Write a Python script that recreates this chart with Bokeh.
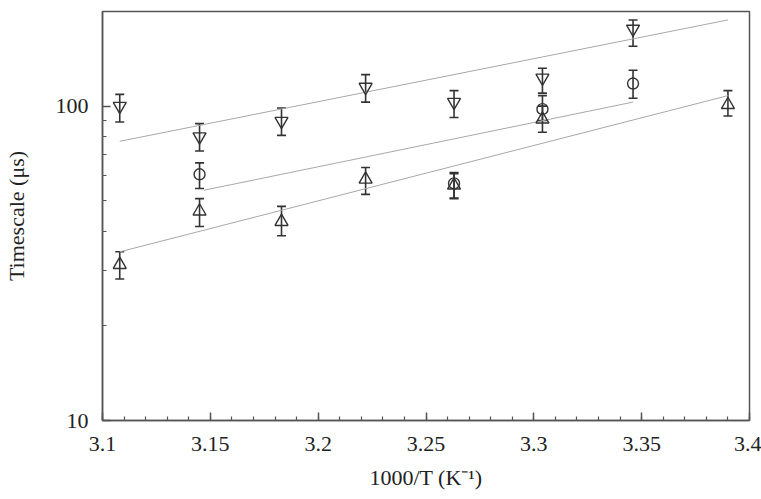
from bokeh.plotting import figure
from bokeh.models import ColumnDataSource, Whisker, TeeHead, FixedTicker, Range1d
from bokeh.embed import file_html
from bokeh.resources import INLINE

# ---- data ----
down_x = [3.108, 3.145, 3.183, 3.222, 3.263, 3.304, 3.346]
down_y = [100, 80, 89.6, 115, 103, 123, 176]
down_lo = [89, 72, 80.7, 103, 92, 110, 155]
down_hi = [109, 88, 98.6, 126, 112, 132, 188]

circ_x = [3.145, 3.263, 3.304, 3.346]
circ_y = [60.7, 56.8, 97.8, 118]
circ_lo = [54.7, 50.8, 90, 106]
circ_hi = [66, 61.5, 108, 130]

up_x = [3.108, 3.145, 3.183, 3.222, 3.263, 3.304, 3.390]
up_y = [31.3, 46.3, 42.9, 58.5, 56, 90.8, 101]
up_lo = [28.2, 41.4, 38.7, 52.4, 51, 82.6, 93]
up_hi = [34.4, 50.8, 48, 63.8, 61, 100, 112]

fit_down_x = [3.108, 3.390]
fit_down_y = [77.3, 188]
fit_circ_x = [3.147, 3.346]
fit_circ_y = [54, 103]
fit_up_x = [3.108, 3.390]
fit_up_y = [34.4, 108]

x_ticks = [3.1, 3.15, 3.2, 3.25, 3.3, 3.35, 3.4]
x_minor = [round(3.1 + 0.01 * i, 2) for i in range(31)]
y_ticks = [10, 100]
y_minor = [20, 30, 40, 50, 60, 70, 80, 90, 200]

FONT = "Liberation Serif"
INK = "#333333"
AX = "#555555"

p = figure(width=761, height=499, output_backend="svg", toolbar_location=None,
           y_axis_type="log", x_range=Range1d(3.1, 3.4), y_range=Range1d(10, 200),
           min_border_left=102, min_border_right=12, min_border_top=11, min_border_bottom=79)
p.grid.visible = False
p.outline_line_color = AX
p.outline_line_width = 1.5
p.background_fill_color = "white"
p.border_fill_color = "white"

# fit lines
p.line(fit_down_x, fit_down_y, line_color="#a8a8a8", line_width=1)
p.line(fit_circ_x, fit_circ_y, line_color="#a8a8a8", line_width=1)
p.line(fit_up_x, fit_up_y, line_color="#a8a8a8", line_width=1)

def series(xs, ys, lo, hi, marker, size):
    src = ColumnDataSource(dict(x=xs, y=ys, lo=lo, hi=hi))
    w = Whisker(source=src, base="x", lower="lo", upper="hi", dimension="height",
                line_color=INK, line_width=1.6,
                upper_head=TeeHead(size=9, line_color=INK, line_width=1.6),
                lower_head=TeeHead(size=9, line_color=INK, line_width=1.6))
    p.add_layout(w)
    p.scatter("x", "y", source=src, marker=marker, size=size,
              fill_color=None, line_color=INK, line_width=1.4)

series(down_x, down_y, down_lo, down_hi, "inverted_triangle", 13)
series(circ_x, circ_y, circ_lo, circ_hi, "circle", 11)
series(up_x, up_y, up_lo, up_hi, "triangle", 13)

# axes
xa = p.xaxis[0]
xa.ticker = FixedTicker(ticks=x_ticks, minor_ticks=x_minor)
xa.major_label_overrides = {3.1: "3.1", 3.15: "3.15", 3.2: "3.2", 3.25: "3.25",
                            3.3: "3.3", 3.35: "3.35", 3.4: "3.4"}
xa.axis_label = "1000/T (K\u207b\u00b9)"
ya = p.yaxis[0]
ya.ticker = FixedTicker(ticks=y_ticks, minor_ticks=y_minor)
ya.major_label_overrides = {10: "10", 100: "100"}
ya.axis_label = "Timescale (\u03bcs)"

for ax in (xa, ya):
    ax.axis_line_color = AX
    ax.axis_line_width = 1.5
    ax.major_tick_line_color = AX
    ax.minor_tick_line_color = AX
    ax.major_tick_line_width = 1.5
    ax.minor_tick_line_width = 1.2
    ax.major_tick_in = 8
    ax.major_tick_out = 0
    ax.minor_tick_in = 4
    ax.minor_tick_out = 0
    ax.major_label_text_font = FONT
    ax.major_label_text_font_size = "22px"
    ax.major_label_text_color = "#222222"
    ax.axis_label_text_font = FONT
    ax.axis_label_text_font_size = "22px"
    ax.axis_label_text_font_style = "normal"
    ax.axis_label_text_color = "#222222"

xa.major_label_standoff = 16
xa.axis_label_standoff = 11
ya.major_label_standoff = 14
ya.axis_label_standoff = 24

open("out.html", "w").write(file_html(p, INLINE))
